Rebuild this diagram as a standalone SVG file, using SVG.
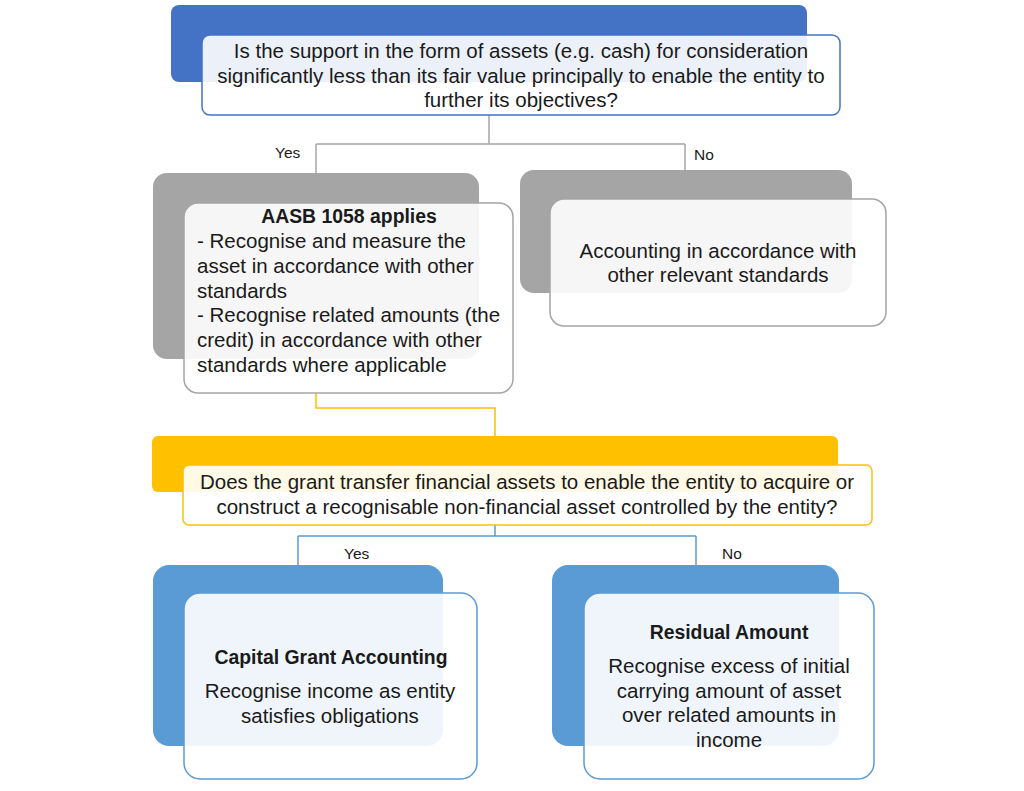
<svg xmlns="http://www.w3.org/2000/svg" width="1024" height="791" viewBox="0 0 1024 791">
<style>
text{font-family:"Liberation Sans","Open Sans",sans-serif;font-size:20.5px;fill:#1a1a1a}
.c{text-anchor:middle}
.b{font-weight:bold;font-size:19.4px}
.front{fill:#ffffff;fill-opacity:0.9;stroke-width:1.5}
.lbl{font-size:15.5px}
.conn{fill:none;stroke-width:1.5}
</style>
<rect width="1024" height="791" fill="#ffffff"/>
<g id="connectors">
<path class="conn" stroke="#A5A5A5" d="M489,115 V144 M316,144 H685 M316,144 V173 M685,144 V170"/>
<path class="conn" stroke="#FFC000" d="M316,393 V408 H495 V436"/>
<path class="conn" stroke="#5B9BD5" d="M495,525 V536 M298,536 H696 M298,536 V565 M696,536 V565"/>
<text class="lbl" x="275" y="158">Yes</text>
<text class="lbl" x="694" y="160">No</text>
<text class="lbl" x="344" y="559">Yes</text>
<text class="lbl" x="722" y="559">No</text>
</g>
<g id="q1">
<rect x="171" y="5" width="636" height="77" rx="8" fill="#4472C4"/>
<rect class="front" x="202" y="35" width="638" height="80" rx="8" stroke="#4472C4"/>
<text class="c" x="521" y="58">Is the support in the form of assets (e.g. cash) for consideration</text>
<text class="c" x="521" y="83">significantly less than its fair value principally to enable the entity to</text>
<text class="c" x="521" y="107">further its objectives?</text>
</g>
<g id="aasb">
<rect x="153" y="173" width="326" height="186" rx="14" fill="#A5A5A5"/>
<rect class="front" x="184" y="203" width="329" height="190" rx="14" stroke="#A5A5A5"/>
<text class="c b" x="349" y="223">AASB 1058 applies</text>
<text x="197" y="248">- Recognise and measure the</text>
<text x="197" y="273">asset in accordance with other</text>
<text x="197" y="298">standards</text>
<text x="197" y="322">- Recognise related amounts (the</text>
<text x="197" y="347">credit) in accordance with other</text>
<text x="197" y="372">standards where applicable</text>
</g>
<g id="other">
<rect x="520" y="170" width="332" height="123" rx="14" fill="#A5A5A5"/>
<rect class="front" x="550" y="199" width="336" height="127" rx="14" stroke="#A5A5A5"/>
<text class="c" x="718" y="258">Accounting in accordance with</text>
<text class="c" x="718" y="282">other relevant standards</text>
</g>
<g id="q2">
<rect x="152" y="436" width="686" height="56" rx="6" fill="#FFC000"/>
<rect class="front" x="183" y="465" width="689" height="60" rx="6" stroke="#FFC000"/>
<text class="c" x="527" y="489">Does the grant transfer financial assets to enable the entity to acquire or</text>
<text class="c" x="527" y="514">construct a recognisable non-financial asset controlled by the entity?</text>
</g>
<g id="capital">
<rect x="153" y="565" width="290" height="181" rx="16" fill="#5B9BD5"/>
<rect class="front" x="184" y="593" width="293" height="186" rx="16" stroke="#5B9BD5"/>
<text class="c b" x="331" y="664">Capital Grant Accounting</text>
<text class="c" x="330" y="698">Recognise income as entity</text>
<text class="c" x="330" y="723">satisfies obligations</text>
</g>
<g id="residual">
<rect x="552" y="565" width="287" height="181" rx="16" fill="#5B9BD5"/>
<rect class="front" x="584" y="593" width="290" height="186" rx="16" stroke="#5B9BD5"/>
<text class="c b" x="729" y="639">Residual Amount</text>
<text class="c" x="729" y="673">Recognise excess of initial</text>
<text class="c" x="729" y="698">carrying amount of asset</text>
<text class="c" x="729" y="722">over related amounts in</text>
<text class="c" x="729" y="747">income</text>
</g>
</svg>
